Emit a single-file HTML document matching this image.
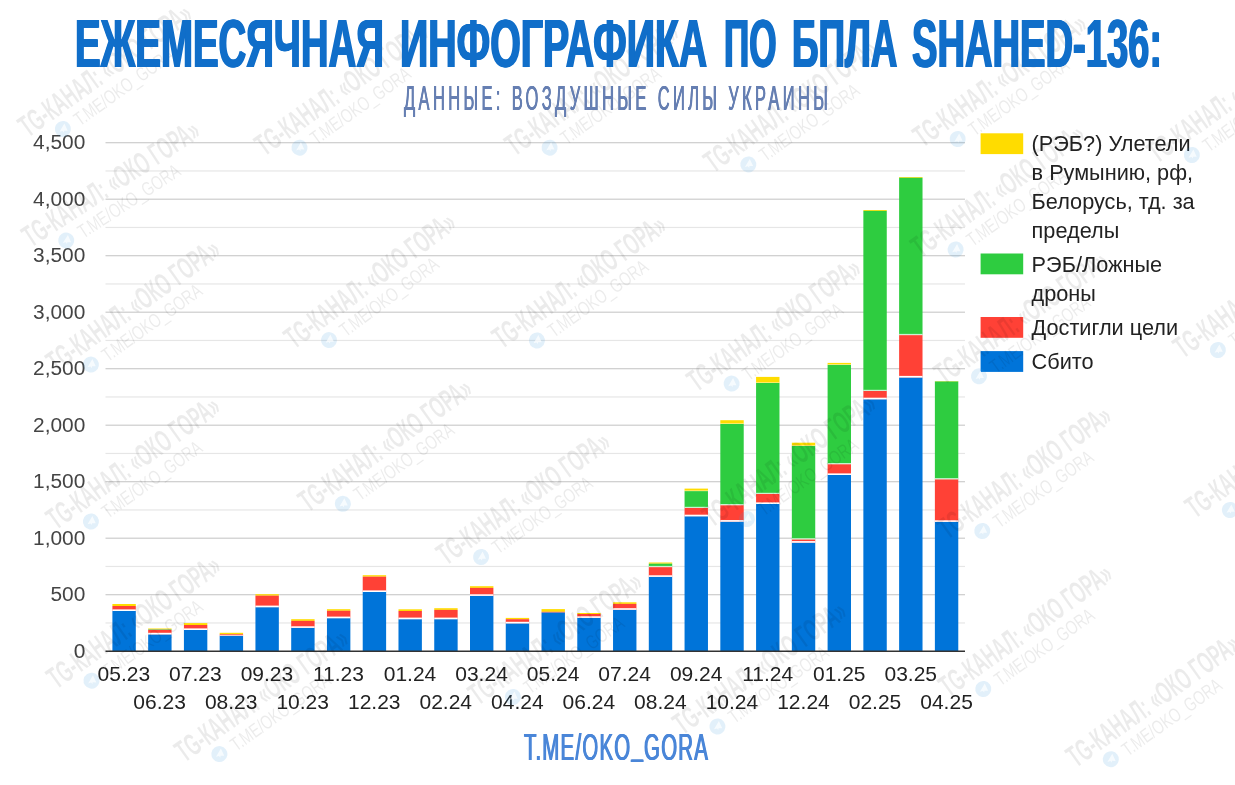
<!DOCTYPE html>
<html lang="ru"><head><meta charset="utf-8"><title>Shahed-136</title>
<style>
html,body{margin:0;padding:0;background:#fff}
body{width:1235px;height:785px;overflow:hidden;position:relative;font-family:"Liberation Sans",sans-serif}
svg{display:block;position:absolute;left:0;top:0}
.h{position:absolute;white-space:nowrap;line-height:1;transform-origin:0 0;margin:0}
.ttl{margin:0;padding:0;font-size:0;line-height:0}
.t1{display:block;top:9.0px;font-size:69.4px;font-weight:bold;color:#106ec9;text-shadow:1.3px 0 0 #106ec9,-1.3px 0 0 #106ec9}
.t2{left:403.8px;top:79.9px;font-size:35.1px;color:#667fb2;transform:scaleX(0.47);letter-spacing:7.17px;text-shadow:0.7px 0 0 #667fb2,-0.5px 0 0 #667fb2}
.t3{left:523.5px;top:728.8px;font-size:37.8px;color:#4a86d8;transform:scaleX(0.54);letter-spacing:2.3px;text-shadow:0.9px 0 0 #4a86d8,-0.9px 0 0 #4a86d8}
.t3 span{position:relative;top:-5px}
</style></head>
<body>
<svg width="1235" height="785" viewBox="0 0 1235 785" font-family="'Liberation Sans', sans-serif">
<rect width="1235" height="785" fill="#fff"/>
<rect x="105.5" y="622.35" width="859.5" height="1.2" fill="#e6e6e6"/>
<rect x="105.5" y="594.10" width="859.5" height="1.2" fill="#cdcdcd"/>
<rect x="105.5" y="565.85" width="859.5" height="1.2" fill="#e6e6e6"/>
<rect x="105.5" y="537.60" width="859.5" height="1.2" fill="#cdcdcd"/>
<rect x="105.5" y="509.35" width="859.5" height="1.2" fill="#e6e6e6"/>
<rect x="105.5" y="481.10" width="859.5" height="1.2" fill="#cdcdcd"/>
<rect x="105.5" y="452.85" width="859.5" height="1.2" fill="#e6e6e6"/>
<rect x="105.5" y="424.60" width="859.5" height="1.2" fill="#cdcdcd"/>
<rect x="105.5" y="396.35" width="859.5" height="1.2" fill="#e6e6e6"/>
<rect x="105.5" y="368.10" width="859.5" height="1.2" fill="#cdcdcd"/>
<rect x="105.5" y="339.85" width="859.5" height="1.2" fill="#e6e6e6"/>
<rect x="105.5" y="311.60" width="859.5" height="1.2" fill="#cdcdcd"/>
<rect x="105.5" y="283.35" width="859.5" height="1.2" fill="#e6e6e6"/>
<rect x="105.5" y="255.10" width="859.5" height="1.2" fill="#cdcdcd"/>
<rect x="105.5" y="226.85" width="859.5" height="1.2" fill="#e6e6e6"/>
<rect x="105.5" y="198.60" width="859.5" height="1.2" fill="#cdcdcd"/>
<rect x="105.5" y="170.35" width="859.5" height="1.2" fill="#e6e6e6"/>
<rect x="105.5" y="142.10" width="859.5" height="1.2" fill="#cdcdcd"/>
<text x="85.3" y="657.90" font-size="20.9" text-anchor="end" fill="#444444">0</text>
<text x="85.3" y="601.40" font-size="20.9" text-anchor="end" fill="#444444">500</text>
<text x="85.3" y="544.90" font-size="20.9" text-anchor="end" fill="#444444">1,000</text>
<text x="85.3" y="488.40" font-size="20.9" text-anchor="end" fill="#444444">1,500</text>
<text x="85.3" y="431.90" font-size="20.9" text-anchor="end" fill="#444444">2,000</text>
<text x="85.3" y="375.40" font-size="20.9" text-anchor="end" fill="#444444">2,500</text>
<text x="85.3" y="318.90" font-size="20.9" text-anchor="end" fill="#444444">3,000</text>
<text x="85.3" y="262.40" font-size="20.9" text-anchor="end" fill="#444444">3,500</text>
<text x="85.3" y="205.90" font-size="20.9" text-anchor="end" fill="#444444">4,000</text>
<text x="85.3" y="149.40" font-size="20.9" text-anchor="end" fill="#444444">4,500</text>
<rect x="112.40" y="604.00" width="23.4" height="2.00" fill="#ffdc00"/>
<rect x="112.40" y="606.00" width="23.4" height="5.00" fill="#ff4136"/>
<rect x="112.40" y="611.00" width="23.4" height="40.20" fill="#0074d9"/>
<rect x="112.40" y="609.40" width="23.4" height="1.6" fill="#fff"/>
<rect x="148.16" y="628.50" width="23.4" height="0.80" fill="#ffdc00"/>
<rect x="148.16" y="629.30" width="23.4" height="0.50" fill="#2ecc40"/>
<rect x="148.16" y="629.80" width="23.4" height="4.60" fill="#ff4136"/>
<rect x="148.16" y="634.40" width="23.4" height="16.80" fill="#0074d9"/>
<rect x="148.16" y="632.80" width="23.4" height="1.6" fill="#fff"/>
<rect x="183.92" y="623.10" width="23.4" height="1.90" fill="#ffdc00"/>
<rect x="183.92" y="625.00" width="23.4" height="5.00" fill="#ff4136"/>
<rect x="183.92" y="630.00" width="23.4" height="21.20" fill="#0074d9"/>
<rect x="183.92" y="628.40" width="23.4" height="1.6" fill="#fff"/>
<rect x="219.68" y="632.80" width="23.4" height="1.50" fill="#ffdc00"/>
<rect x="219.68" y="634.30" width="23.4" height="1.50" fill="#ff4136"/>
<rect x="219.68" y="635.80" width="23.4" height="15.40" fill="#0074d9"/>
<rect x="219.68" y="635.00" width="23.4" height="0.8" fill="#fff" opacity="0.8"/>
<rect x="255.44" y="594.20" width="23.4" height="1.50" fill="#ffdc00"/>
<rect x="255.44" y="595.70" width="23.4" height="11.50" fill="#ff4136"/>
<rect x="255.44" y="607.20" width="23.4" height="44.00" fill="#0074d9"/>
<rect x="255.44" y="605.60" width="23.4" height="1.6" fill="#fff"/>
<rect x="291.20" y="619.20" width="23.4" height="1.70" fill="#ffdc00"/>
<rect x="291.20" y="620.90" width="23.4" height="7.00" fill="#ff4136"/>
<rect x="291.20" y="627.90" width="23.4" height="23.30" fill="#0074d9"/>
<rect x="291.20" y="626.30" width="23.4" height="1.6" fill="#fff"/>
<rect x="326.96" y="609.20" width="23.4" height="1.60" fill="#ffdc00"/>
<rect x="326.96" y="610.80" width="23.4" height="7.40" fill="#ff4136"/>
<rect x="326.96" y="618.20" width="23.4" height="33.00" fill="#0074d9"/>
<rect x="326.96" y="616.60" width="23.4" height="1.6" fill="#fff"/>
<rect x="362.72" y="575.20" width="23.4" height="1.50" fill="#ffdc00"/>
<rect x="362.72" y="576.70" width="23.4" height="15.30" fill="#ff4136"/>
<rect x="362.72" y="592.00" width="23.4" height="59.20" fill="#0074d9"/>
<rect x="362.72" y="590.40" width="23.4" height="1.6" fill="#fff"/>
<rect x="398.48" y="609.30" width="23.4" height="1.70" fill="#ffdc00"/>
<rect x="398.48" y="611.00" width="23.4" height="8.20" fill="#ff4136"/>
<rect x="398.48" y="619.20" width="23.4" height="32.00" fill="#0074d9"/>
<rect x="398.48" y="617.60" width="23.4" height="1.6" fill="#fff"/>
<rect x="434.24" y="608.20" width="23.4" height="1.70" fill="#ffdc00"/>
<rect x="434.24" y="609.90" width="23.4" height="9.30" fill="#ff4136"/>
<rect x="434.24" y="619.20" width="23.4" height="32.00" fill="#0074d9"/>
<rect x="434.24" y="617.60" width="23.4" height="1.6" fill="#fff"/>
<rect x="470.00" y="586.20" width="23.4" height="1.70" fill="#ffdc00"/>
<rect x="470.00" y="587.90" width="23.4" height="8.00" fill="#ff4136"/>
<rect x="470.00" y="595.90" width="23.4" height="55.30" fill="#0074d9"/>
<rect x="470.00" y="594.30" width="23.4" height="1.6" fill="#fff"/>
<rect x="505.76" y="617.90" width="23.4" height="1.30" fill="#ffdc00"/>
<rect x="505.76" y="619.20" width="23.4" height="4.20" fill="#ff4136"/>
<rect x="505.76" y="623.40" width="23.4" height="27.80" fill="#0074d9"/>
<rect x="505.76" y="621.80" width="23.4" height="1.6" fill="#fff"/>
<rect x="541.52" y="609.10" width="23.4" height="2.70" fill="#ffdc00"/>
<rect x="541.52" y="611.80" width="23.4" height="0.80" fill="#ff4136"/>
<rect x="541.52" y="612.60" width="23.4" height="38.60" fill="#0074d9"/>
<rect x="577.28" y="613.00" width="23.4" height="1.00" fill="#ffdc00"/>
<rect x="577.28" y="614.00" width="23.4" height="3.90" fill="#ff4136"/>
<rect x="577.28" y="617.90" width="23.4" height="33.30" fill="#0074d9"/>
<rect x="577.28" y="616.30" width="23.4" height="1.6" fill="#fff"/>
<rect x="613.04" y="602.30" width="23.4" height="1.60" fill="#ffdc00"/>
<rect x="613.04" y="603.90" width="23.4" height="5.90" fill="#ff4136"/>
<rect x="613.04" y="609.80" width="23.4" height="41.40" fill="#0074d9"/>
<rect x="613.04" y="608.20" width="23.4" height="1.6" fill="#fff"/>
<rect x="648.80" y="562.50" width="23.4" height="1.20" fill="#ffdc00"/>
<rect x="648.80" y="563.70" width="23.4" height="3.40" fill="#2ecc40"/>
<rect x="648.80" y="567.10" width="23.4" height="9.80" fill="#ff4136"/>
<rect x="648.80" y="576.90" width="23.4" height="74.30" fill="#0074d9"/>
<rect x="648.80" y="575.30" width="23.4" height="1.6" fill="#fff"/>
<rect x="648.80" y="565.90" width="23.4" height="1.2" fill="#fff" opacity="0.75"/>
<rect x="684.56" y="488.60" width="23.4" height="2.50" fill="#ffdc00"/>
<rect x="684.56" y="491.10" width="23.4" height="16.90" fill="#2ecc40"/>
<rect x="684.56" y="508.00" width="23.4" height="8.30" fill="#ff4136"/>
<rect x="684.56" y="516.30" width="23.4" height="134.90" fill="#0074d9"/>
<rect x="684.56" y="514.70" width="23.4" height="1.6" fill="#fff"/>
<rect x="684.56" y="506.80" width="23.4" height="1.2" fill="#fff" opacity="0.75"/>
<rect x="684.56" y="490.30" width="23.4" height="0.8" fill="#fff" opacity="0.5"/>
<rect x="720.32" y="420.20" width="23.4" height="3.80" fill="#ffdc00"/>
<rect x="720.32" y="424.00" width="23.4" height="81.20" fill="#2ecc40"/>
<rect x="720.32" y="505.20" width="23.4" height="16.50" fill="#ff4136"/>
<rect x="720.32" y="521.70" width="23.4" height="129.50" fill="#0074d9"/>
<rect x="720.32" y="520.10" width="23.4" height="1.6" fill="#fff"/>
<rect x="720.32" y="504.00" width="23.4" height="1.2" fill="#fff" opacity="0.75"/>
<rect x="720.32" y="423.20" width="23.4" height="0.8" fill="#fff" opacity="0.5"/>
<rect x="756.08" y="376.90" width="23.4" height="6.10" fill="#ffdc00"/>
<rect x="756.08" y="383.00" width="23.4" height="111.00" fill="#2ecc40"/>
<rect x="756.08" y="494.00" width="23.4" height="10.00" fill="#ff4136"/>
<rect x="756.08" y="504.00" width="23.4" height="147.20" fill="#0074d9"/>
<rect x="756.08" y="502.40" width="23.4" height="1.6" fill="#fff"/>
<rect x="756.08" y="492.80" width="23.4" height="1.2" fill="#fff" opacity="0.75"/>
<rect x="756.08" y="382.20" width="23.4" height="0.8" fill="#fff" opacity="0.5"/>
<rect x="791.84" y="442.70" width="23.4" height="3.30" fill="#ffdc00"/>
<rect x="791.84" y="446.00" width="23.4" height="93.40" fill="#2ecc40"/>
<rect x="791.84" y="539.40" width="23.4" height="3.30" fill="#ff4136"/>
<rect x="791.84" y="542.70" width="23.4" height="108.50" fill="#0074d9"/>
<rect x="791.84" y="541.10" width="23.4" height="1.6" fill="#fff"/>
<rect x="791.84" y="538.20" width="23.4" height="1.2" fill="#fff" opacity="0.75"/>
<rect x="791.84" y="445.20" width="23.4" height="0.8" fill="#fff" opacity="0.5"/>
<rect x="827.60" y="362.90" width="23.4" height="2.00" fill="#ffdc00"/>
<rect x="827.60" y="364.90" width="23.4" height="99.30" fill="#2ecc40"/>
<rect x="827.60" y="464.20" width="23.4" height="10.80" fill="#ff4136"/>
<rect x="827.60" y="475.00" width="23.4" height="176.20" fill="#0074d9"/>
<rect x="827.60" y="473.40" width="23.4" height="1.6" fill="#fff"/>
<rect x="827.60" y="463.00" width="23.4" height="1.2" fill="#fff" opacity="0.75"/>
<rect x="827.60" y="364.10" width="23.4" height="0.8" fill="#fff" opacity="0.5"/>
<rect x="863.36" y="210.00" width="23.4" height="0.90" fill="#ffdc00"/>
<rect x="863.36" y="210.90" width="23.4" height="180.10" fill="#2ecc40"/>
<rect x="863.36" y="391.00" width="23.4" height="8.30" fill="#ff4136"/>
<rect x="863.36" y="399.30" width="23.4" height="251.90" fill="#0074d9"/>
<rect x="863.36" y="397.70" width="23.4" height="1.6" fill="#fff"/>
<rect x="863.36" y="389.80" width="23.4" height="1.2" fill="#fff" opacity="0.75"/>
<rect x="899.12" y="177.00" width="23.4" height="0.80" fill="#ffdc00"/>
<rect x="899.12" y="177.80" width="23.4" height="157.30" fill="#2ecc40"/>
<rect x="899.12" y="335.10" width="23.4" height="42.40" fill="#ff4136"/>
<rect x="899.12" y="377.50" width="23.4" height="273.70" fill="#0074d9"/>
<rect x="899.12" y="375.90" width="23.4" height="1.6" fill="#fff"/>
<rect x="899.12" y="333.90" width="23.4" height="1.2" fill="#fff" opacity="0.75"/>
<rect x="934.88" y="381.00" width="23.4" height="0.50" fill="#ffdc00"/>
<rect x="934.88" y="381.50" width="23.4" height="97.80" fill="#2ecc40"/>
<rect x="934.88" y="479.30" width="23.4" height="42.60" fill="#ff4136"/>
<rect x="934.88" y="521.90" width="23.4" height="129.30" fill="#0074d9"/>
<rect x="934.88" y="520.30" width="23.4" height="1.6" fill="#fff"/>
<rect x="934.88" y="478.10" width="23.4" height="1.2" fill="#fff" opacity="0.75"/>
<rect x="105.5" y="650.50" width="859.5" height="1.5" fill="#333333"/>
<text x="123.85" y="681.4" font-size="21" text-anchor="middle" fill="#222222">05.23</text>
<text x="159.62" y="709.1" font-size="21" text-anchor="middle" fill="#222222">06.23</text>
<text x="195.39" y="681.4" font-size="21" text-anchor="middle" fill="#222222">07.23</text>
<text x="231.16" y="709.1" font-size="21" text-anchor="middle" fill="#222222">08.23</text>
<text x="266.93" y="681.4" font-size="21" text-anchor="middle" fill="#222222">09.23</text>
<text x="302.70" y="709.1" font-size="21" text-anchor="middle" fill="#222222">10.23</text>
<text x="338.47" y="681.4" font-size="21" text-anchor="middle" fill="#222222">11.23</text>
<text x="374.24" y="709.1" font-size="21" text-anchor="middle" fill="#222222">12.23</text>
<text x="410.01" y="681.4" font-size="21" text-anchor="middle" fill="#222222">01.24</text>
<text x="445.78" y="709.1" font-size="21" text-anchor="middle" fill="#222222">02.24</text>
<text x="481.55" y="681.4" font-size="21" text-anchor="middle" fill="#222222">03.24</text>
<text x="517.32" y="709.1" font-size="21" text-anchor="middle" fill="#222222">04.24</text>
<text x="553.09" y="681.4" font-size="21" text-anchor="middle" fill="#222222">05.24</text>
<text x="588.86" y="709.1" font-size="21" text-anchor="middle" fill="#222222">06.24</text>
<text x="624.63" y="681.4" font-size="21" text-anchor="middle" fill="#222222">07.24</text>
<text x="660.40" y="709.1" font-size="21" text-anchor="middle" fill="#222222">08.24</text>
<text x="696.17" y="681.4" font-size="21" text-anchor="middle" fill="#222222">09.24</text>
<text x="731.94" y="709.1" font-size="21" text-anchor="middle" fill="#222222">10.24</text>
<text x="767.71" y="681.4" font-size="21" text-anchor="middle" fill="#222222">11.24</text>
<text x="803.48" y="709.1" font-size="21" text-anchor="middle" fill="#222222">12.24</text>
<text x="839.25" y="681.4" font-size="21" text-anchor="middle" fill="#222222">01.25</text>
<text x="875.02" y="709.1" font-size="21" text-anchor="middle" fill="#222222">02.25</text>
<text x="910.79" y="681.4" font-size="21" text-anchor="middle" fill="#222222">03.25</text>
<text x="946.56" y="709.1" font-size="21" text-anchor="middle" fill="#222222">04.25</text>
<rect x="980.6" y="133.3" width="42.6" height="20.8" fill="#ffdc00"/>
<text x="1031.6" y="151.3" font-size="21.7" fill="#222222">(РЭБ?) Улетели</text>
<text x="1031.6" y="180.0" font-size="21.7" fill="#222222">в Румынию, рф,</text>
<text x="1031.6" y="208.7" font-size="21.7" fill="#222222">Белорусь, тд. за</text>
<text x="1031.6" y="237.5" font-size="21.7" fill="#222222">пределы</text>
<rect x="980.6" y="253.5" width="42.6" height="20.8" fill="#2ecc40"/>
<text x="1031.6" y="271.6" font-size="21.7" fill="#222222">РЭБ/Ложные</text>
<text x="1031.6" y="300.5" font-size="21.7" fill="#222222">дроны</text>
<rect x="980.6" y="317.0" width="42.6" height="20.8" fill="#ff4136"/>
<text x="1031.6" y="335.1" font-size="21.7" fill="#222222">Достигли цели</text>
<rect x="980.6" y="351.1" width="42.6" height="20.8" fill="#0074d9"/>
<text x="1031.6" y="368.8" font-size="21.7" fill="#222222">Сбито</text>
<g transform="translate(28,138) rotate(-35.6)">
<text x="0" y="0" font-size="31" font-weight="bold" fill="#000" fill-opacity="0.08" textLength="205" lengthAdjust="spacingAndGlyphs">TG-КАНАЛ: «ОКО ГОРА»</text>
<circle cx="33.6" cy="13" r="8" fill="#3a9be0" fill-opacity="0.15"/>
<path d="M29.3 13.2 L38 9.4 L36.6 17.2 L33.6 15 L32.3 16.4 L32.2 14.3 Z" fill="#fff" fill-opacity="0.7"/>
<text x="48.6" y="21" font-size="19.5" fill="#000" fill-opacity="0.08" textLength="118" lengthAdjust="spacingAndGlyphs">T.ME/OKO_GORA</text>
</g>
<g transform="translate(264.6,156.7) rotate(-35.6)">
<text x="0" y="0" font-size="31" font-weight="bold" fill="#000" fill-opacity="0.08" textLength="205" lengthAdjust="spacingAndGlyphs">TG-КАНАЛ: «ОКО ГОРА»</text>
<circle cx="33.6" cy="13" r="8" fill="#3a9be0" fill-opacity="0.15"/>
<path d="M29.3 13.2 L38 9.4 L36.6 17.2 L33.6 15 L32.3 16.4 L32.2 14.3 Z" fill="#fff" fill-opacity="0.7"/>
<text x="48.6" y="21" font-size="19.5" fill="#000" fill-opacity="0.08" textLength="118" lengthAdjust="spacingAndGlyphs">T.ME/OKO_GORA</text>
</g>
<g transform="translate(514.7,156.7) rotate(-35.6)">
<text x="0" y="0" font-size="31" font-weight="bold" fill="#000" fill-opacity="0.08" textLength="205" lengthAdjust="spacingAndGlyphs">TG-КАНАЛ: «ОКО ГОРА»</text>
<circle cx="33.6" cy="13" r="8" fill="#3a9be0" fill-opacity="0.15"/>
<path d="M29.3 13.2 L38 9.4 L36.6 17.2 L33.6 15 L32.3 16.4 L32.2 14.3 Z" fill="#fff" fill-opacity="0.7"/>
<text x="48.6" y="21" font-size="19.5" fill="#000" fill-opacity="0.08" textLength="118" lengthAdjust="spacingAndGlyphs">T.ME/OKO_GORA</text>
</g>
<g transform="translate(713.4,173.4) rotate(-35.6)">
<text x="0" y="0" font-size="31" font-weight="bold" fill="#000" fill-opacity="0.08" textLength="205" lengthAdjust="spacingAndGlyphs">TG-КАНАЛ: «ОКО ГОРА»</text>
<circle cx="33.6" cy="13" r="8" fill="#3a9be0" fill-opacity="0.15"/>
<path d="M29.3 13.2 L38 9.4 L36.6 17.2 L33.6 15 L32.3 16.4 L32.2 14.3 Z" fill="#fff" fill-opacity="0.7"/>
<text x="48.6" y="21" font-size="19.5" fill="#000" fill-opacity="0.08" textLength="118" lengthAdjust="spacingAndGlyphs">T.ME/OKO_GORA</text>
</g>
<g transform="translate(922.8,148) rotate(-35.6)">
<text x="0" y="0" font-size="31" font-weight="bold" fill="#000" fill-opacity="0.08" textLength="205" lengthAdjust="spacingAndGlyphs">TG-КАНАЛ: «ОКО ГОРА»</text>
<circle cx="33.6" cy="13" r="8" fill="#3a9be0" fill-opacity="0.15"/>
<path d="M29.3 13.2 L38 9.4 L36.6 17.2 L33.6 15 L32.3 16.4 L32.2 14.3 Z" fill="#fff" fill-opacity="0.7"/>
<text x="48.6" y="21" font-size="19.5" fill="#000" fill-opacity="0.08" textLength="118" lengthAdjust="spacingAndGlyphs">T.ME/OKO_GORA</text>
</g>
<g transform="translate(1157,164) rotate(-35.6)">
<text x="0" y="0" font-size="31" font-weight="bold" fill="#000" fill-opacity="0.08" textLength="205" lengthAdjust="spacingAndGlyphs">TG-КАНАЛ: «ОКО ГОРА»</text>
<circle cx="33.6" cy="13" r="8" fill="#3a9be0" fill-opacity="0.15"/>
<path d="M29.3 13.2 L38 9.4 L36.6 17.2 L33.6 15 L32.3 16.4 L32.2 14.3 Z" fill="#fff" fill-opacity="0.7"/>
<text x="48.6" y="21" font-size="19.5" fill="#000" fill-opacity="0.08" textLength="118" lengthAdjust="spacingAndGlyphs">T.ME/OKO_GORA</text>
</g>
<g transform="translate(31,248) rotate(-33.2)">
<text x="0" y="0" font-size="31" font-weight="bold" fill="#000" fill-opacity="0.08" textLength="205" lengthAdjust="spacingAndGlyphs">TG-КАНАЛ: «ОКО ГОРА»</text>
<circle cx="33.6" cy="13" r="8" fill="#3a9be0" fill-opacity="0.15"/>
<path d="M29.3 13.2 L38 9.4 L36.6 17.2 L33.6 15 L32.3 16.4 L32.2 14.3 Z" fill="#fff" fill-opacity="0.7"/>
<text x="48.6" y="21" font-size="19.5" fill="#000" fill-opacity="0.08" textLength="118" lengthAdjust="spacingAndGlyphs">T.ME/OKO_GORA</text>
</g>
<g transform="translate(56,373.6) rotate(-35.6)">
<text x="0" y="0" font-size="31" font-weight="bold" fill="#000" fill-opacity="0.08" textLength="205" lengthAdjust="spacingAndGlyphs">TG-КАНАЛ: «ОКО ГОРА»</text>
<circle cx="33.6" cy="13" r="8" fill="#3a9be0" fill-opacity="0.15"/>
<path d="M29.3 13.2 L38 9.4 L36.6 17.2 L33.6 15 L32.3 16.4 L32.2 14.3 Z" fill="#fff" fill-opacity="0.7"/>
<text x="48.6" y="21" font-size="19.5" fill="#000" fill-opacity="0.08" textLength="118" lengthAdjust="spacingAndGlyphs">T.ME/OKO_GORA</text>
</g>
<g transform="translate(294.3,349.8) rotate(-36.8)">
<text x="0" y="0" font-size="31" font-weight="bold" fill="#000" fill-opacity="0.08" textLength="205" lengthAdjust="spacingAndGlyphs">TG-КАНАЛ: «ОКО ГОРА»</text>
<circle cx="33.6" cy="13" r="8" fill="#3a9be0" fill-opacity="0.15"/>
<path d="M29.3 13.2 L38 9.4 L36.6 17.2 L33.6 15 L32.3 16.4 L32.2 14.3 Z" fill="#fff" fill-opacity="0.7"/>
<text x="48.6" y="21" font-size="19.5" fill="#000" fill-opacity="0.08" textLength="118" lengthAdjust="spacingAndGlyphs">T.ME/OKO_GORA</text>
</g>
<g transform="translate(502,349.5) rotate(-35.6)">
<text x="0" y="0" font-size="31" font-weight="bold" fill="#000" fill-opacity="0.08" textLength="205" lengthAdjust="spacingAndGlyphs">TG-КАНАЛ: «ОКО ГОРА»</text>
<circle cx="33.6" cy="13" r="8" fill="#3a9be0" fill-opacity="0.15"/>
<path d="M29.3 13.2 L38 9.4 L36.6 17.2 L33.6 15 L32.3 16.4 L32.2 14.3 Z" fill="#fff" fill-opacity="0.7"/>
<text x="48.6" y="21" font-size="19.5" fill="#000" fill-opacity="0.08" textLength="118" lengthAdjust="spacingAndGlyphs">T.ME/OKO_GORA</text>
</g>
<g transform="translate(920.7,258.5) rotate(-35.6)">
<text x="0" y="0" font-size="31" font-weight="bold" fill="#000" fill-opacity="0.08" textLength="205" lengthAdjust="spacingAndGlyphs">TG-КАНАЛ: «ОКО ГОРА»</text>
<circle cx="33.6" cy="13" r="8" fill="#3a9be0" fill-opacity="0.15"/>
<path d="M29.3 13.2 L38 9.4 L36.6 17.2 L33.6 15 L32.3 16.4 L32.2 14.3 Z" fill="#fff" fill-opacity="0.7"/>
<text x="48.6" y="21" font-size="19.5" fill="#000" fill-opacity="0.08" textLength="118" lengthAdjust="spacingAndGlyphs">T.ME/OKO_GORA</text>
</g>
<g transform="translate(696.7,392.6) rotate(-35.6)">
<text x="0" y="0" font-size="31" font-weight="bold" fill="#000" fill-opacity="0.08" textLength="205" lengthAdjust="spacingAndGlyphs">TG-КАНАЛ: «ОКО ГОРА»</text>
<circle cx="33.6" cy="13" r="8" fill="#3a9be0" fill-opacity="0.15"/>
<path d="M29.3 13.2 L38 9.4 L36.6 17.2 L33.6 15 L32.3 16.4 L32.2 14.3 Z" fill="#fff" fill-opacity="0.7"/>
<text x="48.6" y="21" font-size="19.5" fill="#000" fill-opacity="0.08" textLength="118" lengthAdjust="spacingAndGlyphs">T.ME/OKO_GORA</text>
</g>
<g transform="translate(944.1,385.3) rotate(-35.6)">
<text x="0" y="0" font-size="31" font-weight="bold" fill="#000" fill-opacity="0.08" textLength="205" lengthAdjust="spacingAndGlyphs">TG-КАНАЛ: «ОКО ГОРА»</text>
<circle cx="33.6" cy="13" r="8" fill="#3a9be0" fill-opacity="0.15"/>
<path d="M29.3 13.2 L38 9.4 L36.6 17.2 L33.6 15 L32.3 16.4 L32.2 14.3 Z" fill="#fff" fill-opacity="0.7"/>
<text x="48.6" y="21" font-size="19.5" fill="#000" fill-opacity="0.08" textLength="118" lengthAdjust="spacingAndGlyphs">T.ME/OKO_GORA</text>
</g>
<g transform="translate(1183,359) rotate(-35.6)">
<text x="0" y="0" font-size="31" font-weight="bold" fill="#000" fill-opacity="0.08" textLength="205" lengthAdjust="spacingAndGlyphs">TG-КАНАЛ: «ОКО ГОРА»</text>
<circle cx="33.6" cy="13" r="8" fill="#3a9be0" fill-opacity="0.15"/>
<path d="M29.3 13.2 L38 9.4 L36.6 17.2 L33.6 15 L32.3 16.4 L32.2 14.3 Z" fill="#fff" fill-opacity="0.7"/>
<text x="48.6" y="21" font-size="19.5" fill="#000" fill-opacity="0.08" textLength="118" lengthAdjust="spacingAndGlyphs">T.ME/OKO_GORA</text>
</g>
<g transform="translate(56,530.5) rotate(-35.6)">
<text x="0" y="0" font-size="31" font-weight="bold" fill="#000" fill-opacity="0.08" textLength="205" lengthAdjust="spacingAndGlyphs">TG-КАНАЛ: «ОКО ГОРА»</text>
<circle cx="33.6" cy="13" r="8" fill="#3a9be0" fill-opacity="0.15"/>
<path d="M29.3 13.2 L38 9.4 L36.6 17.2 L33.6 15 L32.3 16.4 L32.2 14.3 Z" fill="#fff" fill-opacity="0.7"/>
<text x="48.6" y="21" font-size="19.5" fill="#000" fill-opacity="0.08" textLength="118" lengthAdjust="spacingAndGlyphs">T.ME/OKO_GORA</text>
</g>
<g transform="translate(308,512.8) rotate(-35.6)">
<text x="0" y="0" font-size="31" font-weight="bold" fill="#000" fill-opacity="0.08" textLength="205" lengthAdjust="spacingAndGlyphs">TG-КАНАЛ: «ОКО ГОРА»</text>
<circle cx="33.6" cy="13" r="8" fill="#3a9be0" fill-opacity="0.15"/>
<path d="M29.3 13.2 L38 9.4 L36.6 17.2 L33.6 15 L32.3 16.4 L32.2 14.3 Z" fill="#fff" fill-opacity="0.7"/>
<text x="48.6" y="21" font-size="19.5" fill="#000" fill-opacity="0.08" textLength="118" lengthAdjust="spacingAndGlyphs">T.ME/OKO_GORA</text>
</g>
<g transform="translate(446.2,566) rotate(-35.6)">
<text x="0" y="0" font-size="31" font-weight="bold" fill="#000" fill-opacity="0.08" textLength="205" lengthAdjust="spacingAndGlyphs">TG-КАНАЛ: «ОКО ГОРА»</text>
<circle cx="33.6" cy="13" r="8" fill="#3a9be0" fill-opacity="0.15"/>
<path d="M29.3 13.2 L38 9.4 L36.6 17.2 L33.6 15 L32.3 16.4 L32.2 14.3 Z" fill="#fff" fill-opacity="0.7"/>
<text x="48.6" y="21" font-size="19.5" fill="#000" fill-opacity="0.08" textLength="118" lengthAdjust="spacingAndGlyphs">T.ME/OKO_GORA</text>
</g>
<g transform="translate(712,528) rotate(-35.6)">
<text x="0" y="0" font-size="31" font-weight="bold" fill="#000" fill-opacity="0.08" textLength="205" lengthAdjust="spacingAndGlyphs">TG-КАНАЛ: «ОКО ГОРА»</text>
<circle cx="33.6" cy="13" r="8" fill="#3a9be0" fill-opacity="0.15"/>
<path d="M29.3 13.2 L38 9.4 L36.6 17.2 L33.6 15 L32.3 16.4 L32.2 14.3 Z" fill="#fff" fill-opacity="0.7"/>
<text x="48.6" y="21" font-size="19.5" fill="#000" fill-opacity="0.08" textLength="118" lengthAdjust="spacingAndGlyphs">T.ME/OKO_GORA</text>
</g>
<g transform="translate(947.4,540) rotate(-35.6)">
<text x="0" y="0" font-size="31" font-weight="bold" fill="#000" fill-opacity="0.08" textLength="205" lengthAdjust="spacingAndGlyphs">TG-КАНАЛ: «ОКО ГОРА»</text>
<circle cx="33.6" cy="13" r="8" fill="#3a9be0" fill-opacity="0.15"/>
<path d="M29.3 13.2 L38 9.4 L36.6 17.2 L33.6 15 L32.3 16.4 L32.2 14.3 Z" fill="#fff" fill-opacity="0.7"/>
<text x="48.6" y="21" font-size="19.5" fill="#000" fill-opacity="0.08" textLength="118" lengthAdjust="spacingAndGlyphs">T.ME/OKO_GORA</text>
</g>
<g transform="translate(1195,519) rotate(-35.6)">
<text x="0" y="0" font-size="31" font-weight="bold" fill="#000" fill-opacity="0.08" textLength="205" lengthAdjust="spacingAndGlyphs">TG-КАНАЛ: «ОКО ГОРА»</text>
<circle cx="33.6" cy="13" r="8" fill="#3a9be0" fill-opacity="0.15"/>
<path d="M29.3 13.2 L38 9.4 L36.6 17.2 L33.6 15 L32.3 16.4 L32.2 14.3 Z" fill="#fff" fill-opacity="0.7"/>
<text x="48.6" y="21" font-size="19.5" fill="#000" fill-opacity="0.08" textLength="118" lengthAdjust="spacingAndGlyphs">T.ME/OKO_GORA</text>
</g>
<g transform="translate(56.6,689.7) rotate(-35.6)">
<text x="0" y="0" font-size="31" font-weight="bold" fill="#000" fill-opacity="0.08" textLength="205" lengthAdjust="spacingAndGlyphs">TG-КАНАЛ: «ОКО ГОРА»</text>
<circle cx="33.6" cy="13" r="8" fill="#3a9be0" fill-opacity="0.15"/>
<path d="M29.3 13.2 L38 9.4 L36.6 17.2 L33.6 15 L32.3 16.4 L32.2 14.3 Z" fill="#fff" fill-opacity="0.7"/>
<text x="48.6" y="21" font-size="19.5" fill="#000" fill-opacity="0.08" textLength="118" lengthAdjust="spacingAndGlyphs">T.ME/OKO_GORA</text>
</g>
<g transform="translate(184.5,763.1) rotate(-35.6)">
<text x="0" y="0" font-size="31" font-weight="bold" fill="#000" fill-opacity="0.08" textLength="205" lengthAdjust="spacingAndGlyphs">TG-КАНАЛ: «ОКО ГОРА»</text>
<circle cx="33.6" cy="13" r="8" fill="#3a9be0" fill-opacity="0.15"/>
<path d="M29.3 13.2 L38 9.4 L36.6 17.2 L33.6 15 L32.3 16.4 L32.2 14.3 Z" fill="#fff" fill-opacity="0.7"/>
<text x="48.6" y="21" font-size="19.5" fill="#000" fill-opacity="0.08" textLength="118" lengthAdjust="spacingAndGlyphs">T.ME/OKO_GORA</text>
</g>
<g transform="translate(478,706) rotate(-35.6)">
<text x="0" y="0" font-size="31" font-weight="bold" fill="#000" fill-opacity="0.08" textLength="205" lengthAdjust="spacingAndGlyphs">TG-КАНАЛ: «ОКО ГОРА»</text>
<circle cx="33.6" cy="13" r="8" fill="#3a9be0" fill-opacity="0.15"/>
<path d="M29.3 13.2 L38 9.4 L36.6 17.2 L33.6 15 L32.3 16.4 L32.2 14.3 Z" fill="#fff" fill-opacity="0.7"/>
<text x="48.6" y="21" font-size="19.5" fill="#000" fill-opacity="0.08" textLength="118" lengthAdjust="spacingAndGlyphs">T.ME/OKO_GORA</text>
</g>
<g transform="translate(682.5,735.5) rotate(-35.6)">
<text x="0" y="0" font-size="31" font-weight="bold" fill="#000" fill-opacity="0.08" textLength="205" lengthAdjust="spacingAndGlyphs">TG-КАНАЛ: «ОКО ГОРА»</text>
<circle cx="33.6" cy="13" r="8" fill="#3a9be0" fill-opacity="0.15"/>
<path d="M29.3 13.2 L38 9.4 L36.6 17.2 L33.6 15 L32.3 16.4 L32.2 14.3 Z" fill="#fff" fill-opacity="0.7"/>
<text x="48.6" y="21" font-size="19.5" fill="#000" fill-opacity="0.08" textLength="118" lengthAdjust="spacingAndGlyphs">T.ME/OKO_GORA</text>
</g>
<g transform="translate(948.4,698) rotate(-35.6)">
<text x="0" y="0" font-size="31" font-weight="bold" fill="#000" fill-opacity="0.08" textLength="205" lengthAdjust="spacingAndGlyphs">TG-КАНАЛ: «ОКО ГОРА»</text>
<circle cx="33.6" cy="13" r="8" fill="#3a9be0" fill-opacity="0.15"/>
<path d="M29.3 13.2 L38 9.4 L36.6 17.2 L33.6 15 L32.3 16.4 L32.2 14.3 Z" fill="#fff" fill-opacity="0.7"/>
<text x="48.6" y="21" font-size="19.5" fill="#000" fill-opacity="0.08" textLength="118" lengthAdjust="spacingAndGlyphs">T.ME/OKO_GORA</text>
</g>
<g transform="translate(1075.9,768.2) rotate(-35.6)">
<text x="0" y="0" font-size="31" font-weight="bold" fill="#000" fill-opacity="0.08" textLength="205" lengthAdjust="spacingAndGlyphs">TG-КАНАЛ: «ОКО ГОРА»</text>
<circle cx="33.6" cy="13" r="8" fill="#3a9be0" fill-opacity="0.15"/>
<path d="M29.3 13.2 L38 9.4 L36.6 17.2 L33.6 15 L32.3 16.4 L32.2 14.3 Z" fill="#fff" fill-opacity="0.7"/>
<text x="48.6" y="21" font-size="19.5" fill="#000" fill-opacity="0.08" textLength="118" lengthAdjust="spacingAndGlyphs">T.ME/OKO_GORA</text>
</g>
</svg>
<h1 class="ttl"><span class="h t1" style="left:75.3px;transform:scaleX(0.5534)">ЕЖЕМЕСЯЧНАЯ</span> <span class="h t1" style="left:400.3px;transform:scaleX(0.5662)">ИНФОГРАФИКА</span> <span class="h t1" style="left:724.4px;transform:scaleX(0.5061)">ПО</span> <span class="h t1" style="left:792.4px;transform:scaleX(0.5309)">БПЛА</span> <span class="h t1" style="left:912.2px;transform:scaleX(0.5496)">SHAHED-136:</span></h1>
<div class="h t2">ДАННЫЕ: ВОЗДУШНЫЕ СИЛЫ УКРАИНЫ</div>
<div class="h t3">T.ME/OKO<span>_</span>GORA</div>
</body></html>
